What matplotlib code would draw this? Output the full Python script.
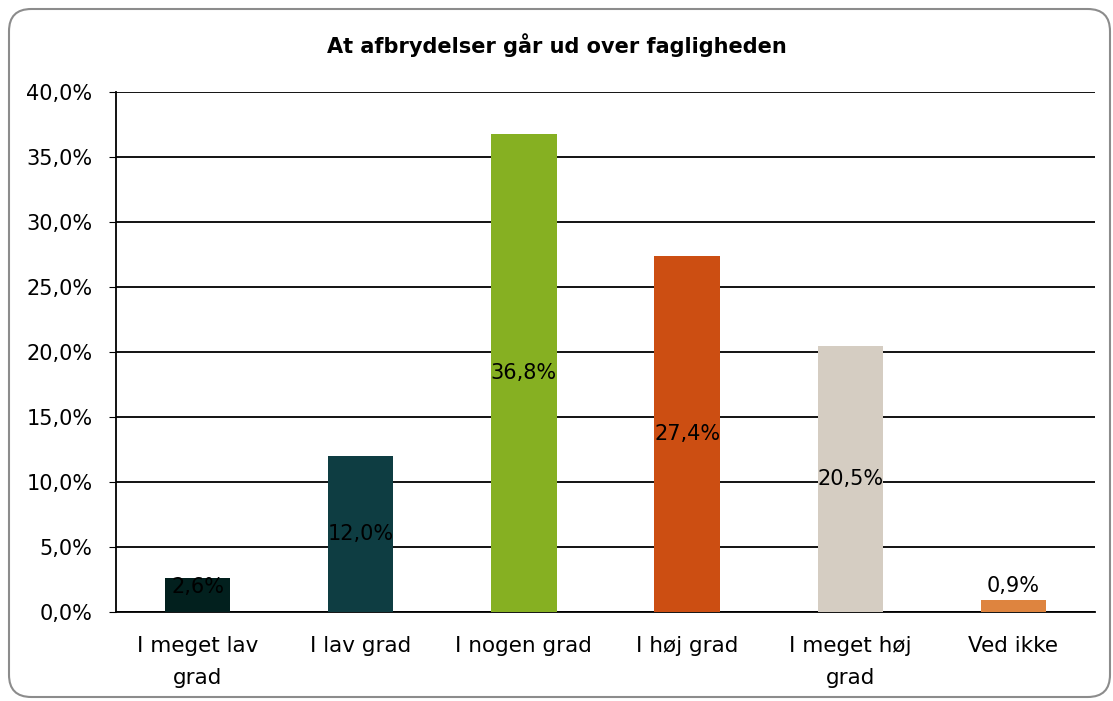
import matplotlib
matplotlib.use("Agg")
import matplotlib.pyplot as plt
from matplotlib.patches import FancyBboxPatch

categories = ["I meget lav\ngrad", "I lav grad", "I nogen grad", "I høj grad", "I meget høj\ngrad", "Ved ikke"]
values = [2.6, 12.0, 36.8, 27.4, 20.5, 0.9]
labels = ["2,6%", "12,0%", "36,8%", "27,4%", "20,5%", "0,9%"]
colors = ["#02201E", "#0E3D42", "#86B022", "#CC4E12", "#D5CDC2", "#DE843F"]
yticks = [0, 5, 10, 15, 20, 25, 30, 35, 40]
ytick_labels = ["0,0%", "5,0%", "10,0%", "15,0%", "20,0%", "25,0%", "30,0%", "35,0%", "40,0%"]
title = "At afbrydelser går ud over fagligheden"

plt.rcParams['font.family'] = ['DejaVu Sans']
fig = plt.figure(figsize=(11.13, 7.01), dpi=100)
frame = FancyBboxPatch((9/1113, 4/701), 1101/1113, 688/701,
                       boxstyle="round,pad=0,rounding_size=0.02",
                       transform=fig.transFigure, fill=False,
                       edgecolor="#8c8c8c", linewidth=1.5,
                       mutation_aspect=1113/701)
fig.patches.append(frame)

ax = fig.add_axes([116/1113, 1-612/701, (1095-116)/1113, (612-92)/701])
x = range(len(categories))
bars = ax.bar(x, values, width=0.4, color=colors, zorder=3)
ax.set_ylim(0, 40)
ax.set_xlim(-0.5, len(categories)-0.5)
ax.set_yticks(yticks)
ax.set_yticklabels(ytick_labels, fontsize=15)
ax.set_xticks(list(x))
ax.set_xticklabels(categories, fontsize=15.5, linespacing=1.75)
ax.tick_params(axis='x', length=0, pad=17)
ax.tick_params(axis='y', length=5, pad=12)
ax.yaxis.grid(True, color="black", linewidth=1.3, zorder=0)
for s in ["top", "right"]:
    ax.spines[s].set_visible(False)
for s in ["left", "bottom"]:
    ax.spines[s].set_color("black")
    ax.spines[s].set_linewidth(1.3)

for i, (v, lab) in enumerate(zip(values, labels)):
    if i == len(values) - 1:
        ax.text(i, v + 0.3, lab, ha="center", va="bottom", fontsize=15, zorder=4)
    else:
        ax.text(i, max(v / 2, 1.9), lab, ha="center", va="center", fontsize=15, zorder=4)

fig.text(0.5, 1-45/701, title, ha="center", va="center", fontsize=15, fontweight="bold")
fig.savefig("out.png", dpi=100)
